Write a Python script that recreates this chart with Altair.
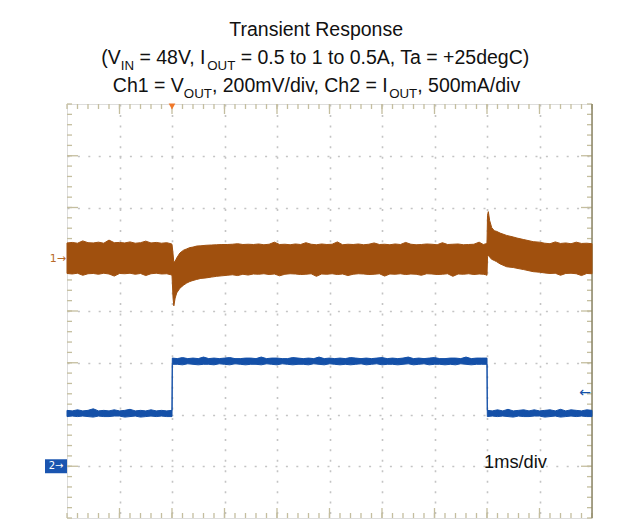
import altair as alt
import numpy as np
import pandas as pd

# ---------------- values ----------------
# time in ms, load step at t = 0, 1 ms/div, 10 divisions on screen
T_RANGE = [-2.0, 8.0]
DIVS_Y = 8

# Ch1: VOUT AC deviation (mV), upper / lower edge of the noise band
ch1_t = [-2.0, -1.9, -1.8, -1.7, -1.6, -1.5, -1.4, -1.3, -1.2, -1.1, -1.0, -0.9, -0.8, -0.7, -0.6,
         -0.5, -0.4, -0.3, -0.2, -0.1, -0.02,
         0.0, 0.02, 0.035, 0.06, 0.09, 0.15, 0.22, 0.28, 0.34, 0.4, 0.47, 0.55, 0.65, 0.75, 0.85,
         0.95, 1.05, 1.15, 1.25, 1.35, 1.45,
         1.55, 1.65, 1.75, 1.85, 1.95, 2.05, 2.15, 2.25, 2.35, 2.45, 2.55, 2.65, 2.75, 2.85, 2.95,
         3.05, 3.15, 3.25, 3.35, 3.45, 3.55, 3.65, 3.75, 3.85, 3.95, 4.05, 4.15, 4.25, 4.35, 4.45,
         4.55, 4.65, 4.75, 4.85, 4.95, 5.05, 5.15, 5.25, 5.35, 5.45, 5.55, 5.65, 5.75, 5.85, 5.93,
         5.98, 6.0, 6.01, 6.025, 6.05, 6.09, 6.14, 6.18, 6.25, 6.375, 6.5, 6.57, 6.7, 6.88, 7.0,
         7.1, 7.2, 7.3, 7.4, 7.5, 7.6, 7.7, 7.8, 7.9, 8.0]
ch1_hi = [63, 65, 62, 71, 64, 63, 66, 62, 74, 64, 65, 63, 67, 62, 64,
          70, 63, 65, 62, 64, 60,
          58, 20, -12, -8, 5, 24, 35, 40, 45, 47, 51, 52, 54, 55, 56,
          57, 57, 58, 60, 57, 58,
          57, 59, 56, 58, 66, 57, 58, 56, 59, 57, 64, 58, 56, 59, 57,
          58, 67, 56, 58, 57, 59, 56, 58, 63, 57, 58, 56, 59, 57, 65,
          58, 56, 57, 59, 58, 56, 64, 57, 58, 59, 56, 57, 58, 66, 57,
          60, 63, 170, 184, 150, 122, 110, 108, 101, 92, 86, 82, 76, 68, 66,
          62, 60, 67, 61, 63, 60, 66, 61, 62, 60]
ch1_lo = [-55, -57, -54, -62, -56, -55, -58, -54, -57, -65, -55, -56, -54, -58, -55,
          -63, -56, -54, -57, -56, -60,
          -62, -150, -180, -150, -130, -112, -100, -92, -86, -82, -78, -74, -72, -69, -66,
          -64, -62, -60, -63, -58, -61,
          -57, -58, -56, -59, -57, -64, -58, -56, -57, -59, -58, -56, -66, -57, -58,
          -56, -59, -57, -63, -58, -56, -57, -59, -58, -56, -65, -57, -58, -56, -59,
          -57, -58, -62, -56, -57, -59, -58, -56, -66, -57, -58, -56, -59, -57, -58,
          -60, -62, 10, 16, 8, 0, -5, -9, -18, -29, -32, -35, -40, -48, -50,
          -53, -55, -54, -62, -55, -54, -56, -63, -55, -56]

# Ch2: IOUT (A), upper / lower edge of the trace
ch2_t = [-2.0, -1.9, -1.8, -1.7, -1.6, -1.5, -1.4, -1.3, -1.2, -1.1, -1.0, -0.9, -0.8, -0.7, -0.6,
         -0.5, -0.4, -0.3, -0.2, -0.1, 0.0,
         0.006, 0.1, 0.2, 0.3, 0.4, 0.5, 0.6, 0.7, 0.8, 0.9, 1.0, 1.1, 1.2, 1.3, 1.4, 1.5, 1.6, 1.7,
         1.8, 1.9, 2.0, 2.1, 2.2, 2.3, 2.4, 2.5, 2.6, 2.7, 2.8, 2.9, 3.0, 3.1, 3.2, 3.3, 3.4, 3.5,
         3.6, 3.7, 3.8, 3.9, 4.0, 4.1, 4.2, 4.3, 4.4, 4.5, 4.6, 4.7, 4.8, 4.9, 5.0, 5.1, 5.2, 5.3,
         5.4, 5.5, 5.6, 5.7, 5.8, 5.9, 6.0,
         6.006, 6.1, 6.2, 6.3, 6.4, 6.5, 6.6, 6.7, 6.8, 6.9, 7.0, 7.1, 7.2, 7.3, 7.4, 7.5, 7.6,
         7.7, 7.8, 7.9, 8.0]
ch2_hi = [0.54, 0.535, 0.545, 0.535, 0.54, 0.555, 0.535, 0.54, 0.535, 0.545, 0.535, 0.54, 0.55,
          0.535, 0.54, 0.535, 0.545, 0.535, 0.54, 0.535, 0.54,
          1.045, 1.04, 1.05, 1.04, 1.045, 1.04, 1.055, 1.04, 1.045, 1.04, 1.045, 1.05, 1.04,
          1.04, 1.045, 1.045, 1.04, 1.055, 1.04, 1.045, 1.045, 1.04, 1.04, 1.05, 1.045, 1.04,
          1.045, 1.04, 1.055, 1.04, 1.045, 1.04, 1.045, 1.04, 1.05, 1.045, 1.04, 1.045, 1.04,
          1.045, 1.05, 1.04, 1.045, 1.04, 1.045, 1.055, 1.04, 1.045, 1.04, 1.045, 1.05, 1.04,
          1.04, 1.045, 1.045, 1.04, 1.055, 1.04, 1.045, 1.045, 1.045,
          0.54, 0.535, 0.545, 0.535, 0.55, 0.535, 0.54, 0.545, 0.535, 0.545, 0.535, 0.54, 0.545,
          0.535, 0.55, 0.535, 0.545, 0.54, 0.535, 0.545, 0.54]
ch2_lo = [0.48, 0.485, 0.48, 0.485, 0.48, 0.475, 0.485, 0.48, 0.48, 0.485, 0.485, 0.475, 0.48,
          0.485, 0.475, 0.48, 0.485, 0.48, 0.485, 0.48, 0.48,
          0.985, 0.985, 0.98, 0.99, 0.985, 0.98, 0.985, 0.985, 0.98, 0.99, 0.985, 0.98, 0.99,
          0.985, 0.98, 0.985, 0.985, 0.98, 0.99, 0.985, 0.98, 0.99, 0.985, 0.98, 0.985, 0.985,
          0.98, 0.99, 0.985, 0.98, 0.99, 0.985, 0.98, 0.985, 0.98, 0.985, 0.99, 0.98, 0.985,
          0.99, 0.98, 0.985, 0.985, 0.98, 0.985, 0.99, 0.98, 0.985, 0.99, 0.98, 0.985, 0.985,
          0.98, 0.985, 0.98, 0.99, 0.985, 0.98, 0.985, 0.985, 0.985,
          0.48, 0.485, 0.48, 0.485, 0.48, 0.475, 0.485, 0.48, 0.48, 0.485, 0.485, 0.475, 0.48,
          0.485, 0.475, 0.48, 0.485, 0.48, 0.485, 0.48, 0.48]

CH1_MV_PER_DIV = 200.0
CH2_A_PER_DIV = 0.5
CH1_REF_DIV = 5.0      # "1" marker, divisions above bottom
CH2_REF_DIV = 1.0      # "2" marker = 0 A
TRIG_T = 0.0           # trigger time marker
TRIG_LEVEL_A = 0.71    # Ch2 trigger level arrow

title_lines = [
    [("Transient Response", False)],
    [("(V", False), ("IN", True), (" = 48V, I", False), ("OUT", True),
     (" = 0.5 to 1 to 0.5A, Ta = +25degC)", False)],
    [("Ch1 = V", False), ("OUT", True), (", 200mV/div, Ch2 = I", False), ("OUT", True),
     (", 500mA/div", False)],
]
timebase_label = "1ms/div"

# ---------------- layout / style ----------------
PW, PH = 525, 414
ORANGE = "#A0500E"
BLUE = "#1450A8"
GRID = "#C4C4C4"
FRAME = "#C4BE9F"
FRAME_DARK = "#8C8664"
FONT = "Liberation Sans"
TSIZE, SUBSIZE, SUBDROP = 19.5, 13.3, 6
BASELINES = [-67.6, -39.6, -11.6]
CX = 249.5

AW = {' ': 278, '(': 333, ')': 333, '+': 584, ',': 278, '-': 333, '.': 278, '/': 278, '=': 584,
      'A': 667, 'C': 722, 'I': 278, 'N': 722, 'O': 778, 'R': 722, 'T': 611, 'U': 722, 'V': 667,
      'a': 556, 'c': 500, 'd': 556, 'e': 556, 'g': 556, 'h': 556, 'i': 222, 'm': 833, 'n': 556,
      'o': 556, 'p': 556, 'r': 333, 's': 500, 't': 278, 'v': 500}


def tw(s, size):
    return sum(AW.get(c, 556) for c in s) / 1000.0 * size


xs = alt.Scale(domain=T_RANGE, nice=False, zero=False)
ys = alt.Scale(domain=[0, DIVS_Y], nice=False, zero=False)
xa = alt.Axis(values=list(range(-1, 8)), grid=True, gridDash=[2, 8.45], gridColor=GRID,
              gridWidth=1.6, labels=False, ticks=False, domain=False, title=None)
ya = alt.Axis(values=list(range(1, 8)), grid=True, gridDash=[2, 8.4], gridColor=GRID,
              gridWidth=1.6, labels=False, ticks=False, domain=False, title=None)


def X(f):
    return alt.X(f, type="quantitative", scale=xs, axis=xa, title=None)


def Y(f):
    return alt.Y(f, type="quantitative", scale=ys, axis=ya, title=None)


def Y2(f):
    return alt.Y2(f)


# traces in divisions
ch1 = pd.DataFrame({"t": ch1_t, "hi": ch1_hi, "lo": ch1_lo})
ch1["yh"] = CH1_REF_DIV + ch1["hi"] / CH1_MV_PER_DIV
ch1["yl"] = CH1_REF_DIV + ch1["lo"] / CH1_MV_PER_DIV
ch2 = pd.DataFrame({"t": ch2_t, "hi": ch2_hi, "lo": ch2_lo})
ch2["yh"] = CH2_REF_DIV + ch2["hi"] / CH2_A_PER_DIV
ch2["yl"] = CH2_REF_DIV + ch2["lo"] / CH2_A_PER_DIV

layers = []

# frame ticks
xt = pd.DataFrame({"t": np.round(np.arange(T_RANGE[0], T_RANGE[1] + 1e-9, 0.2), 3)})
xtm = pd.DataFrame({"t": np.arange(-1, 8)})
yt = pd.DataFrame({"d": np.round(np.arange(0, DIVS_Y + 1e-9, 0.2), 3)})
ytm = pd.DataFrame({"d": np.arange(1, 8)})
for df, ln in ((xt, 5), (xtm, 10)):
    layers.append(alt.Chart(df).mark_rule(color=FRAME, strokeWidth=1.3).encode(
        x=X("t"), y=alt.value(PH), y2=alt.value(PH - ln)))
    layers.append(alt.Chart(df).mark_rule(color=FRAME, strokeWidth=1.3).encode(
        x=X("t"), y=alt.value(0), y2=alt.value(ln)))
for df, ln in ((yt, 5), (ytm, 11)):
    layers.append(alt.Chart(df).mark_rule(color=FRAME, strokeWidth=1.3).encode(
        y=Y("d"), x=alt.value(0), x2=alt.value(ln)))
    layers.append(alt.Chart(df).mark_rule(color=FRAME, strokeWidth=1.3).encode(
        y=Y("d"), x=alt.value(PW), x2=alt.value(PW - ln)))
# darker right edge
layers.append(alt.Chart(pd.DataFrame({"d": [0]})).mark_rule(color=FRAME_DARK, strokeWidth=1.5).encode(
    x=alt.value(PW), y=alt.value(0), y2=alt.value(PH)))

# traces
layers.append(alt.Chart(ch1).mark_area(color=ORANGE, stroke=ORANGE, strokeWidth=1, opacity=1).encode(
    x=X("t"), y=Y("yh"), y2=Y2("yl")))
layers.append(alt.Chart(ch2).mark_area(color=BLUE, stroke=BLUE, strokeWidth=1, opacity=1).encode(
    x=X("t"), y=Y("yh"), y2=Y2("yl")))

# markers
m1 = pd.DataFrame({"d": [CH1_REF_DIV], "txt": ["1\u2192"]})
layers.append(alt.Chart(m1).mark_text(align="right", baseline="middle", fontSize=11,
                                      font="DejaVu Sans", color="#B86A2A").encode(
    y=Y("d"), x=alt.value(-1), text="txt:N"))
m2 = pd.DataFrame({"d": [CH2_REF_DIV], "d1": [CH2_REF_DIV + 0.135], "d2": [CH2_REF_DIV - 0.135],
                   "txt": ["2\u2192"]})
layers.append(alt.Chart(m2).mark_rect(color="#1A55B0").encode(
    y=Y("d1"), y2=Y2("d2"), x=alt.value(-22), x2=alt.value(0)))
layers.append(alt.Chart(m2).mark_text(align="center", baseline="middle", fontSize=10,
                                      font="DejaVu Sans", color="white").encode(
    y=Y("d"), x=alt.value(-11), text="txt:N"))
trig = pd.DataFrame({"t": [TRIG_T]})
layers.append(alt.Chart(trig).mark_point(shape="triangle-down", filled=True, size=45,
                                         color="#F0782A", opacity=1).encode(
    x=X("t"), y=alt.value(2.5)))
lvl = pd.DataFrame({"d": [CH2_REF_DIV + TRIG_LEVEL_A / CH2_A_PER_DIV], "txt": ["\u2190"]})
layers.append(alt.Chart(lvl).mark_text(align="right", baseline="middle", fontSize=14,
                                       font="DejaVu Sans", color=BLUE).encode(
    y=Y("d"), x=alt.value(PW - 1), text="txt:N"))

# timebase label
layers.append(alt.Chart(pd.DataFrame({"txt": [timebase_label]})).mark_text(
    align="left", baseline="alphabetic", fontSize=18.3, font=FONT, color="#111111").encode(
    x=alt.value(417), y=alt.value(364), text="txt:N"))

# title lines with subscripts (leading spaces are collapsed by SVG, so advance x instead)
for segs, base in zip(title_lines, BASELINES):
    total = sum(tw(s, SUBSIZE if sub else TSIZE) for s, sub in segs)
    xpos = CX - total / 2
    for s, sub in segs:
        size = SUBSIZE if sub else TSIZE
        shown = s.lstrip(" ")
        lead = tw(s[:len(s) - len(shown)], size)
        layers.append(alt.Chart(pd.DataFrame({"txt": [shown]})).mark_text(
            align="left", baseline="alphabetic", fontSize=size, font=FONT, color="#111111").encode(
            x=alt.value(xpos + lead), y=alt.value(base + (SUBDROP if sub else 0)), text="txt:N"))
        xpos += tw(s, size)

chart = alt.layer(*layers).properties(
    width=PW, height=PH,
    autosize=alt.AutoSizeParams(type="none"),
    padding={"left": 59, "top": 96, "right": 30, "bottom": 3},
).configure_view(stroke=FRAME, strokeWidth=1.5).configure(background="white")

chart.save("out.html", embed_options={"renderer": "svg", "actions": False})
